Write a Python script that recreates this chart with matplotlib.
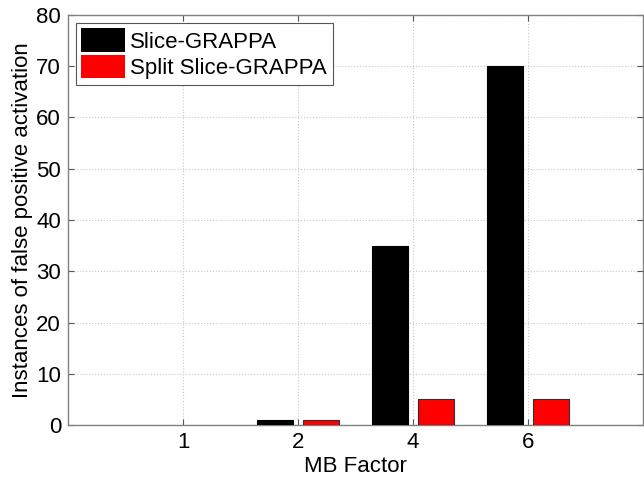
import numpy as np
import matplotlib
matplotlib.use('Agg')
import matplotlib.pyplot as plt

mb_factors = ['1', '2', '4', '6']
slice_grappa = [0, 1, 35, 70]
split_slice_grappa = [0, 1, 5, 5]
series_names = ['Slice-GRAPPA', 'Split Slice-GRAPPA']

plt.rcParams['font.family'] = ['Liberation Sans', 'DejaVu Sans']

fig = plt.figure(figsize=(6.44, 4.79), dpi=100)
ax = fig.add_axes([0.1056, 0.1127, 0.893, 0.856])

x = np.arange(1, len(mb_factors) + 1)
w = 0.31
off = 0.2
# zero-height bars drawn without edge so no stray line shows at the base
lw_a = [0 if v == 0 else 0.8 for v in slice_grappa]
lw_b = [0 if v == 0 else 0.8 for v in split_slice_grappa]
ax.bar(x - off, slice_grappa, w, color='black', edgecolor='black',
       linewidth=lw_a, label=series_names[0], zorder=3)
ax.bar(x + off, split_slice_grappa, w, color='#ff0000', edgecolor='#303030',
       linewidth=lw_b, label=series_names[1], zorder=3)

ax.set_xlim(0, 5)
ax.set_ylim(0, 80)
ax.set_xticks(x)
ax.set_xticklabels(mb_factors)
ax.set_yticks(np.arange(0, 81, 10))

ax.grid(True, linestyle=':', color='#c8c8c8', linewidth=0.8, zorder=0)
ax.tick_params(direction='in', length=4, width=0.8, color='#555555',
               labelsize=16, top=True, right=True, pad=5)
for s in ax.spines.values():
    s.set_color('#808080')
    s.set_linewidth(1.0)

ax.set_xlabel('MB Factor', fontsize=16, labelpad=2)
ax.set_ylabel('Instances of false positive activation', fontsize=16, labelpad=2)

leg = ax.legend(loc='upper left', fontsize=16, handlelength=1.95, handleheight=1.25,
                handletextpad=0.25, borderpad=0.25, labelspacing=0.1,
                borderaxespad=0.35, fancybox=False, framealpha=1)
leg.get_frame().set_edgecolor('#555555')
leg.get_frame().set_linewidth(0.8)

fig.savefig('out.png', dpi=100)
